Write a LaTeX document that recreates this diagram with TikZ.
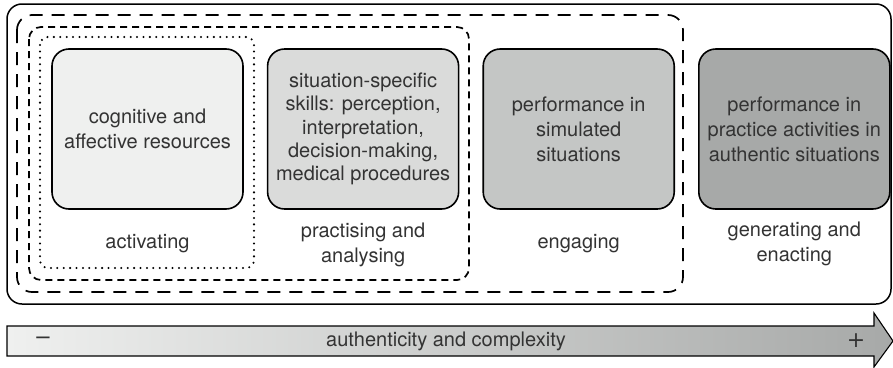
\documentclass[tikz,border=0pt]{standalone}
\usepackage{fontspec}
\setmainfont{TeX Gyre Heros}
\newfontfamily\signfont{DejaVu Sans}
\usepackage{xcolor}
\usetikzlibrary{positioning}

\definecolor{resfill}{HTML}{EFF0EF}
\definecolor{skillfill}{HTML}{DADBDA}
\definecolor{simfill}{HTML}{C4C6C5}
\definecolor{authfill}{HTML}{A7A9A8}
\definecolor{txt}{HTML}{333333}

\begin{document}
\begin{tikzpicture}[x=1pt, y=-1pt,
      stage/.style={draw, line width=1.6pt, rounded corners=17pt, minimum width=191pt, minimum height=160pt, align=center, text=txt, font=\fontsize{20}{25}\selectfont, inner sep=0pt},
      phase/.style={align=center, text=txt, font=\fontsize{20}{25}\selectfont, inner sep=0pt, anchor=center},
      frame/.style={line width=1.7pt},
      longdash/.style={frame, dash pattern=on 13pt off 9pt, rounded corners=15pt},
      shortdash/.style={frame, dash pattern=on 7pt off 5pt, rounded corners=12pt},
      dots/.style={frame, line width=2.3pt, dash pattern=on 0pt off 6.4pt, line cap=round, rounded corners=8pt},
      axislbl/.style={text=txt, font=\fontsize{20}{25}\selectfont, inner sep=0pt},
    ]
    \useasboundingbox (0,0) rectangle (893,367);

    % stages
    \node[stage, fill=resfill] (res) at (147.5,129) {cognitive and\\affective resources};
    \node[stage, fill=skillfill, font=\fontsize{20}{23.3}\selectfont, right=23pt of res] (skill) {situation-specific\\skills: perception,\\interpretation,\\decision-making,\\medical procedures};
    \node[stage, fill=simfill, right=23pt of skill] (sim) {performance in\\simulated\\situations};
    \node[stage, fill=authfill, right=23pt of sim] (auth) {performance in\\practice activities in\\authentic situations};

    % phases
    \node[phase, below=34pt of res.south, anchor=center] (act) {activating};
    \node[phase, below=35pt of skill.south, anchor=center] (prac) {practising and\\analysing};
    \node[phase, below=34pt of sim.south, anchor=center] (eng) {engaging};
    \node[phase, below=34pt of auth.south, anchor=center] (gen) {generating and\\enacting};

    % frames
    \draw[frame, line width=1.5pt, rounded corners=15pt] (7,4) rectangle (891,304);
    \draw[longdash] (17,15) rectangle (683,292);
    \draw[shortdash] (29,27) rectangle (469,280);
    \draw[dots] (40,37) rectangle (254,268);

    % axis
    \shadedraw[left color=resfill, right color=authfill, line width=1.1pt]
      (7,326) -- (874,326) -- (874,313) -- (893,341) -- (874,367) -- (874,356) -- (7,356) -- cycle;
    \node[axislbl] (axis) at (446,341) {authenticity and complexity};
    \node[axislbl, font=\fontsize{24}{25}\selectfont] (low) at (43,341) {--};
    \node[axislbl, font=\signfont\fontsize{22}{25}\selectfont] (high) at (856,341) {+};
  \end{tikzpicture}
\end{document}
